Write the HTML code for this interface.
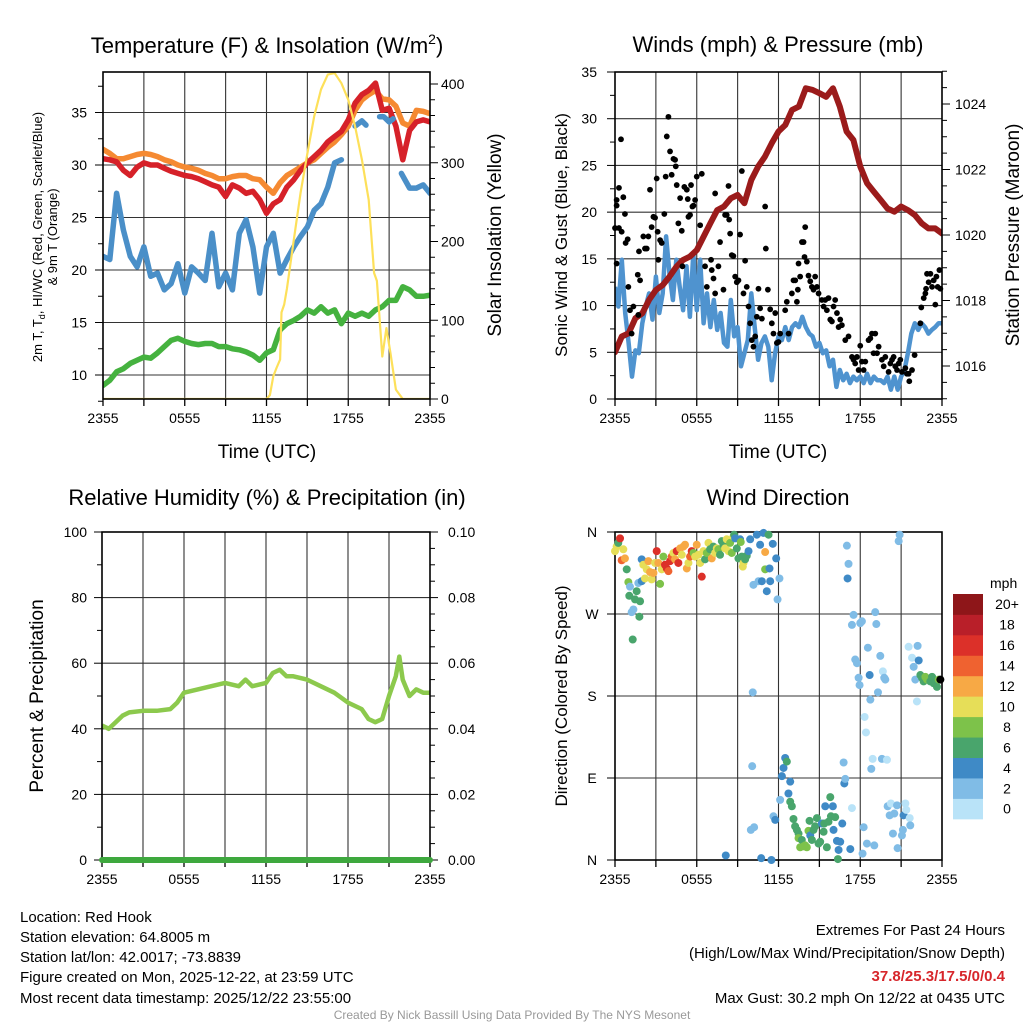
<!DOCTYPE html>
<html><head><meta charset="utf-8">
<style>
html,body{margin:0;padding:0;background:#fff;}
svg{display:block;font-family:"Liberation Sans",Arial,sans-serif;}
</style></head>
<body>
<svg id="chart" width="1024" height="1024" viewBox="0 0 1024 1024" xmlns="http://www.w3.org/2000/svg">
<defs>
<clipPath id="c1"><rect x="103" y="72" width="327" height="327"/></clipPath>
<clipPath id="c2"><rect x="615" y="72" width="327" height="327"/></clipPath>
<clipPath id="c3"><rect x="90" y="520" width="355" height="350"/></clipPath>
</defs>
<rect width="1024" height="1024" fill="#fff"/>

<!-- titles -->
<text x="267" y="53" font-size="22" text-anchor="middle">Temperature (F) &amp; Insolation (W/m<tspan dy="-9" font-size="14">2</tspan><tspan dy="9">)</tspan></text>
<text x="778" y="52" font-size="22" text-anchor="middle">Winds (mph) &amp; Pressure (mb)</text>
<text x="267" y="505" font-size="22" text-anchor="middle">Relative Humidity (%) &amp; Precipitation (in)</text>
<text x="778" y="505" font-size="22" text-anchor="middle">Wind Direction</text>

<g id="g1"></g>
<g id="g2"></g>
<g id="g3"></g>
<g id="g4"></g>

<!-- axis titles -->
<text transform="translate(42,237) rotate(-90)" font-size="13" text-anchor="middle">2m T, T<tspan dy="3" font-size="9">d</tspan><tspan dy="-3">, HI/WC (Red, Green, Scarlet/Blue)</tspan></text>
<text transform="translate(57,237) rotate(-90)" font-size="13" text-anchor="middle">&amp; 9m T (Orange)</text>
<text transform="translate(501,235) rotate(-90)" font-size="19" text-anchor="middle">Solar Insolation (Yellow)</text>
<text x="267" y="458" font-size="19" text-anchor="middle">Time (UTC)</text>
<text transform="translate(567,235) rotate(-90)" font-size="17" text-anchor="middle">Sonic Wind &amp; Gust (Blue, Black)</text>
<text transform="translate(1019,235) rotate(-90)" font-size="19" text-anchor="middle">Station Pressure (Maroon)</text>
<text x="778" y="458" font-size="19" text-anchor="middle">Time (UTC)</text>
<text transform="translate(43,696) rotate(-90)" font-size="19" text-anchor="middle">Percent &amp; Precipitation</text>
<text transform="translate(567,696) rotate(-90)" font-size="17" text-anchor="middle">Direction (Colored By Speed)</text>
<text x="990" y="588" font-size="14">mph</text>

<!-- footer -->
<g font-size="15">
<text x="20" y="922">Location: Red Hook</text>
<text x="20" y="942">Station elevation: 64.8005 m</text>
<text x="20" y="962">Station lat/lon: 42.0017; -73.8839</text>
<text x="20" y="982">Figure created on Mon, 2025-12-22, at 23:59 UTC</text>
<text x="20" y="1003">Most recent data timestamp: 2025/12/22 23:55:00</text>
</g>
<g font-size="15" text-anchor="end">
<text x="1005" y="935">Extremes For Past 24 Hours</text>
<text x="1005" y="958">(High/Low/Max Wind/Precipitation/Snow Depth)</text>
<text x="1005" y="981" fill="#d7262b" font-weight="bold">37.8/25.3/17.5/0/0.4</text>
<text x="1005" y="1003">Max Gust: 30.2 mph On 12/22 at 0435 UTC</text>
</g>
<text x="512" y="1019" font-size="12" fill="#999" text-anchor="middle">Created By Nick Bassill Using Data Provided By The NYS Mesonet</text>
</svg>

<script>
// ---------- data ----------
const timeTickLabels = ["2355","0555","1155","1755","2355"];
const halfHours = [0,0.5,1,1.5,2,2.5,3,3.5,4,4.5,5,5.5,6,6.5,7,7.5,8,8.5,9,9.5,10,10.5,11,11.5,12,12.5,13,13.5,14,14.5,15,15.5,16,16.5,17,17.5,18,18.5,19,19.5,20,20.5,21,21.5,22,22.5,23,23.5,24];
const tempRed = [30.6,30.5,30.3,29.5,29.0,29.8,30.2,30.0,30.0,29.7,29.4,29.2,29.0,28.9,28.7,28.4,28.1,27.9,27.0,28.1,27.8,27.3,27.5,26.7,25.4,26.3,26.7,27.9,28.6,29.5,30.2,30.8,31.4,32.2,32.7,33.2,34.3,35.9,36.7,37.1,37.8,35.2,35.4,33.7,30.5,33.3,34.1,34.3,34.1];
const temp9m = [31.5,31.1,30.6,30.6,30.8,31.0,31.1,31.0,30.8,30.5,30.3,30.0,29.8,29.7,29.5,29.2,29.0,28.7,28.7,28.9,29.0,29.0,28.7,28.6,27.9,27.3,28.3,29.0,29.4,29.8,30.2,30.5,31.1,31.7,32.2,32.9,33.7,35.2,36.2,36.7,37.1,36.3,36.2,35.6,34.0,33.7,35.2,35.1,34.9];
const dewGreen = [9.0,9.5,10.3,10.6,11.1,11.4,11.7,11.6,12.1,12.7,13.3,13.5,13.2,13.0,12.9,13.0,13.0,12.7,12.7,12.5,12.4,12.2,11.9,11.4,12.1,12.4,14.3,14.9,15.2,15.6,16.2,15.9,16.5,15.9,16.2,14.9,15.9,15.6,15.9,15.6,16.2,16.5,17.1,17.1,18.4,18.1,17.5,17.5,17.6];
const hiwcHours = [0,0.5,1,1.5,2,2.5,3,3.5,4,4.5,5,5.5,6,6.5,7,7.5,8,8.5,9,9.5,10,10.5,11,11.5,12,12.5,13,13.5,14,14.5,15,15.5,16,16.5,17,17.5,18,18.5,19,19.3,19.6,20.3,20.6,21,21.3,21.6,21.9,22.2,22.5,23,23.5,24];
const hiwcBlue = [21.3,21.0,27.3,23.8,21.3,20.3,22.2,19.4,19.7,18.1,18.7,20.6,17.8,20.3,19.7,19.0,23.5,18.4,19.7,18.1,23.5,24.8,22.2,17.8,22.2,23.5,19.7,21.0,22.2,23.2,24.1,25.7,26.3,27.9,30.2,30.5,null,33.7,34.2,33.8,null,34.6,34.6,34.1,34.4,null,29.2,28.5,27.8,27.8,28.1,27.3];
const solarHours = [0,12,12.25,12.5,12.75,13,13.1,13.3,13.5,14,14.5,15,15.5,16,16.5,17,17.5,18,18.5,19,19.5,19.9,20.1,20.5,20.8,21.1,21.5,22,24];
const solarWm2 = [0,0,5,29,40,50,110,120,140,202,262,312,359,393,412,414,401,380,346,304,253,160,150,54,90,58,12,0,0];
const tempTicks = [10,15,20,25,30,35];
const solarTicks = [0,100,200,300,400];

const windMph = [12.0,9.9,14.9,9.2,6.0,2.4,5.2,4.9,8.1,9.9,11.3,8.5,13.1,9.2,11.3,17.4,13.4,10.6,14.9,12.0,9.5,14.2,8.8,15.6,9.5,14.9,8.1,11.3,7.7,10.6,7.4,9.2,6.0,5.6,10.6,6.7,7.7,3.5,4.9,6.3,11.3,7.7,4.2,6.0,6.7,5.6,2.0,4.9,6.7,6.3,7.7,6.3,7.7,8.1,7.7,8.8,7.7,7.0,6.7,5.6,6.0,4.9,5.2,3.5,4.2,1.3,3.1,2.0,2.7,1.7,2.4,2.0,2.4,1.7,2.7,1.7,2.4,2.0,2.0,1.7,2.4,1.0,2.4,1.0,2.4,3.1,4.9,7.0,8.1,7.4,8.1,7.7,7.0,7.4,7.7,8.1,8.1];
const pressureMb = [1016.42,1016.90,1017.00,1017.46,1017.61,1018.02,1018.32,1018.47,1018.73,1019.03,1019.24,1019.34,1019.54,1019.95,1020.36,1020.76,1020.87,1021.12,1021.22,1020.97,1021.68,1022.09,1022.39,1022.80,1023.16,1023.36,1023.82,1023.92,1024.48,1024.43,1024.33,1024.22,1024.48,1023.92,1023.16,1022.90,1022.09,1021.58,1021.32,1021.07,1020.81,1020.71,1020.87,1020.76,1020.61,1020.36,1020.20,1020.20,1020.05];
const gustHours = [0.0,0.12,0.12,0.29,0.44,0.61,0.73,0.29,0.49,0.78,0.93,0.12,0.98,1.1,1.35,1.22,1.67,1.84,1.71,1.76,2.08,2.2,2.33,2.45,2.57,2.69,2.82,2.94,3.06,3.13,3.18,3.31,3.43,3.62,3.72,3.8,3.92,4.04,4.16,4.29,4.41,4.46,4.53,4.65,4.78,4.9,4.95,5.09,5.27,5.34,5.39,5.51,5.58,5.68,5.76,5.88,6.0,6.25,6.37,6.61,6.74,7.05,7.1,7.23,7.35,7.59,7.35,7.71,7.96,8.08,8.2,8.33,8.38,8.45,8.57,8.69,8.82,8.94,9.06,9.18,9.31,9.43,9.55,9.67,9.8,9.92,10.04,10.16,10.29,10.41,10.53,10.65,10.78,11.02,11.07,11.22,11.39,11.51,11.63,11.76,11.88,12.0,12.12,12.49,12.61,12.74,12.98,13.1,13.23,13.35,13.42,13.47,13.59,13.72,13.84,13.96,13.91,14.08,14.2,14.33,14.45,14.57,14.69,14.82,14.94,15.18,15.31,15.43,15.55,15.67,15.8,15.92,16.04,16.16,16.29,16.41,16.53,16.65,16.9,17.14,17.39,17.51,17.63,17.76,17.88,18.0,18.12,18.25,18.37,18.61,18.74,18.86,18.98,19.1,19.23,19.35,19.59,19.72,19.84,20.08,20.21,20.33,20.45,20.57,20.7,20.82,20.94,21.06,21.31,21.43,21.55,21.6,21.8,21.99,22.41,22.48,22.66,22.78,22.83,22.9,23.02,23.15,23.27,23.39,23.51,23.59,23.68,23.81,23.88];
const gustMph = [18.3,21.3,20.7,22.6,27.8,21.6,19.8,18.3,17.9,16.7,17.1,14.5,12.0,9.5,9.9,7.0,13.3,12.7,9.0,15.8,17.4,16.1,16.1,17.4,22.4,18.4,19.5,19.4,23.6,17.9,14.9,17.0,16.7,19.8,23.8,28.1,30.2,26.5,24.0,25.7,25.6,24.9,22.9,18.8,21.5,18.0,14.2,22.7,22.4,21.4,19.5,19.7,22.9,20.6,20.7,21.3,23.8,18.6,24.1,14.2,12.0,14.9,13.8,12.9,11.3,14.2,22.0,16.8,11.7,19.7,19.7,22.8,19.2,17.7,15.4,15.3,13.1,12.5,12.7,17.6,24.4,11.3,14.8,12.0,9.9,8.1,6.3,5.6,6.7,8.8,11.8,9.7,8.6,20.6,16.1,11.7,9.6,8.1,7.0,9.2,6.0,6.1,7.0,9.5,10.4,7.0,11.3,12.7,12.7,10.4,11.7,14.5,13.1,16.8,16.8,18.4,15.2,14.7,13.2,12.6,12.0,11.7,13.1,12.0,11.3,10.6,9.9,10.6,9.5,10.8,8.5,8.3,9.9,10.6,9.2,7.7,8.5,7.9,6.3,6.7,4.5,4.2,3.8,4.5,3.1,5.7,4.0,3.1,4.0,6.3,6.5,7.0,4.9,7.0,4.9,5.6,4.2,3.5,4.5,2.9,3.8,4.2,4.5,3.5,3.1,3.8,4.2,2.9,3.3,2.7,2.7,1.9,3.1,4.7,8.1,9.8,10.8,11.3,11.8,13.4,12.5,13.4,12.0,12.7,10.1,13.1,12.0,13.8,11.8];
const windTicks = [0,5,10,15,20,25,30,35];
const pressureTicks = [1016,1018,1020,1022,1024];

const rhHours = [0,0.5,1,1.5,2,3,4,5,5.5,6,7,8,9,10,10.5,11,12,12.5,13,13.5,14,15,16,17,18,19,19.5,20,20.5,21,21.5,21.75,22,22.5,23,23.5,24];
const rhPercent = [41,40,42,44,45,45.5,45.5,46,48,51,52,53,54,53,55,53,54,57,58,56,56,55,53,51,48,46,43,42,43,50,56,62,55,50,52,51,51];
const precipInches = [0,0];
const precipHours = [0,24];
const rhTicks = [0,20,40,60,80,100];
const precipTicks = ["0.00","0.02","0.04","0.06","0.08","0.10"];

const dirHours = [0.00,0.12,0.24,0.37,0.49,0.61,0.73,0.86,0.98,1.05,1.10,1.22,1.35,1.47,1.59,1.71,1.79,1.84,1.30,1.96,1.96,2.08,2.20,2.33,2.45,2.57,2.69,2.82,2.94,3.06,3.18,3.31,3.43,3.55,3.67,3.80,3.92,4.04,4.16,4.29,4.41,4.53,4.65,4.78,4.90,5.02,5.14,5.27,5.39,5.51,5.63,5.76,5.88,6.00,6.12,6.25,6.37,6.49,6.61,6.74,6.86,6.98,7.10,7.22,7.35,7.47,7.59,7.71,7.84,7.96,8.08,8.20,8.33,8.45,8.57,8.69,8.74,8.82,8.94,9.06,9.18,9.23,9.31,9.38,9.43,9.55,9.67,9.80,9.92,10.11,10.07,10.16,10.41,10.53,10.65,10.78,10.90,11.02,11.02,11.14,11.27,11.34,11.39,11.58,11.83,11.93,12.07,8.13,9.97,10.21,10.73,11.48,11.63,11.76,12.12,12.25,12.37,12.49,12.61,12.73,12.86,12.86,12.98,13.10,13.22,13.35,13.47,13.47,13.59,13.71,13.84,13.96,14.08,14.20,14.28,14.33,14.45,14.57,14.69,14.82,14.94,15.06,15.18,15.31,15.36,15.43,15.55,15.67,15.80,15.85,15.99,16.04,16.16,16.29,16.36,16.41,16.53,16.68,16.78,16.83,16.90,17.02,17.07,17.14,17.27,17.39,17.39,17.51,17.63,17.76,17.88,17.95,18.00,18.12,18.17,18.25,18.32,18.42,18.49,18.56,18.69,18.74,18.81,18.91,19.03,19.10,19.18,19.30,19.47,19.59,19.66,19.76,19.84,19.96,20.01,20.16,20.25,20.40,20.50,20.70,20.82,20.89,20.74,21.06,21.13,21.18,21.31,21.38,21.55,21.63,21.67,21.80,21.92,22.04,22.16,22.21,22.29,22.41,22.53,22.65,22.78,22.90,23.02,23.14,23.27,23.39,23.51,23.63,23.76,23.88];
const dirDegrees = [339,344,348,353,329,341,331,319,305,290,300,272,275,286,295,304,267,284,242,306,330,324,309,319,328,316,308,315,326,339,326,303,319,333,324,320,317,328,333,337,330,339,326,342,335,344,346,320,326,333,339,337,333,346,335,326,311,339,330,337,348,341,331,344,337,342,341,335,350,346,342,352,339,348,337,355,357,353,342,331,352,349,333,322,326,330,334,339,352,184,103,302,357,306,346,306,359,319,338,295,357,320,306,347,331,286,309,5,33,36,2,0,48,44,66,92,101,112,108,73,86,64,59,45,37,33,29,24,14,22,15,16,14,32,43,27,22,33,37,46,18,20,40,31,40,59,14,42,69,48,59,33,47,21,1,11,20,40,107,84,89,345,309,325,12,57,258,269,220,216,200,192,260,262,7,36,157,140,18,233,203,176,100,111,16,272,259,184,224,111,207,200,198,110,59,49,62,29,51,60,350,357,13,27,33,49,62,55,234,46,38,222,212,198,174,235,219,203,200,196,201,198,198,196,201,194,196,190,198,198];
const dirSpeed = [10,10,6,16,14,10,12,6,8,6,2,2,2,6,6,2,6,6,6,4,4,10,10,10,12,12,10,12,10,16,12,8,10,8,16,16,14,16,14,10,12,16,16,12,10,12,12,12,10,14,16,8,10,12,10,10,16,10,6,8,10,6,12,6,10,10,8,6,6,6,10,10,10,8,8,10,6,4,6,6,4,8,6,10,10,6,6,4,4,2,2,2,4,2,4,4,4,8,12,4,6,4,4,4,4,2,2,4,2,2,4,4,2,4,2,4,4,4,6,4,4,6,6,6,6,6,6,8,8,6,8,8,8,8,6,4,6,6,6,6,6,6,4,6,6,4,6,6,6,6,4,4,6,4,6,4,4,4,2,4,2,2,4,2,4,0,2,2,2,2,2,2,2,2,2,2,0,0,2,2,4,2,2,0,2,2,2,2,2,2,0,2,2,0,2,2,0,2,2,2,2,2,2,2,2,4,0,0,0,0,2,0,2,2,0,2,4,6,6,6,8,8,8,6,6,6,6,6,8];
const dirTickLabels = ["N","E","S","W","N"];
const speedBinLabels = ["0","2","4","6","8","10","12","14","16","18","20+"];
const speedBinColors = ["#b9e3f8","#80bce6","#3f8ac6","#49a56c","#7dc24a","#e6de58","#f7a945","#ef6230","#dc3029","#b91f29","#8e1619"];

// ---------- helpers ----------
const NS = "http://www.w3.org/2000/svg";
function el(tag, attrs, parent){const e=document.createElementNS(NS,tag);for(const k in attrs)e.setAttribute(k,attrs[k]);parent.appendChild(e);return e;}
function linePath(xs, ys, fx, fy){let d="",pen=false;for(let i=0;i<xs.length;i++){if(ys[i]===null||ys[i]===undefined){pen=false;continue;}d+=(pen?"L":"M")+fx(xs[i]).toFixed(1)+","+fy(ys[i]).toFixed(1);pen=true;}return d;}
const quarterHours = windMph.map((_, i) => i * 0.25);

function frame(g, L, T, W, H, vLines, hLines){
  const grid = el("g",{},g);
  
  
  vLines.forEach(x=>el("line",{x1:x,y1:T,x2:x,y2:T+H,stroke:"#333","stroke-width":1.1},grid));
  hLines.forEach(y=>el("line",{x1:L,y1:y,x2:L+W,y2:y,stroke:"#333","stroke-width":1.1},grid));
  return grid;
}
function border(g,L,T,W,H){
  const b=el("rect",{x:L,y:T,width:W,height:H,fill:"none",stroke:"#000","stroke-width":1.6},g);
  
  
}
function xAxis(g, L, W, bottom, labelY){
  for(let k=0;k<=8;k++){const x=L+k*W/8;el("line",{x1:x,y1:bottom,x2:x,y2:bottom+7,stroke:"#000","stroke-width":1.3},g);}
  timeTickLabels.forEach((s,i)=>{
    const t=el("text",{x:L+i*W/4,y:labelY,"font-size":14,"text-anchor":"middle"},g);
    
    
    t.textContent=s;
  });
}

// ---------- Panel 1 ----------
(function(){
  const g=document.getElementById("g1");
  const L=103,T=72,W=327,H=327;
  const x=h=>L+h*W/24, yL=v=>375-(v-10)*10.5, yR=w=>399-w*0.7875;
  const vl=[];for(let k=1;k<8;k++)vl.push(L+k*W/8);
  frame(g,L,T,W,H,vl,tempTicks.map(yL));
  // left ticks
  for(let v=7.5;v<=38.6;v+=2.5){const major=(v%5===0);el("line",{x1:L-(major?8:5),y1:yL(v),x2:L,y2:yL(v),stroke:"#000","stroke-width":1},g);}
  tempTicks.forEach(v=>{const t=el("text",{x:87,y:yL(v)+5,"font-size":14,"text-anchor":"end"},g);
    
    
    t.textContent=v;});
  for(let w=0;w<=400;w+=20){const major=(w%100===0);el("line",{x1:L+W,y1:yR(w),x2:L+W+(major?8:5),y2:yR(w),stroke:"#000","stroke-width":1},g);}
  solarTicks.forEach(w=>{const t=el("text",{x:441,y:yR(w)+5,"font-size":14},g);
    
    
    t.textContent=w;});
  xAxis(g,L,W,L+0>0?399:399,423);
  const cg=el("g",{"clip-path":"url(#c1)"},g);
  const s=[[temp9m,halfHours,"#f58a32","temp-9m-line"],[tempRed,halfHours,"#d62129","temp-2m-line"],[hiwcBlue,hiwcHours,"#4a8fc8","heat-index-windchill-line"],[dewGreen,halfHours,"#45b23f","dewpoint-line"]];
  s.forEach(([vals,hrs,c,n])=>{const p=el("path",{d:linePath(hrs,vals,x,yL),fill:"none",stroke:c,"stroke-width":5.5,"stroke-linejoin":"round","stroke-linecap":"round"},cg);
    
    });
  const sp=el("path",{d:linePath(solarHours,solarWm2,x,yR),fill:"none",stroke:"#fde05a","stroke-width":2.2,"stroke-linejoin":"round"},cg);
  
  
  border(g,L,T,W,H);
})();

// ---------- Panel 2 ----------
(function(){
  const g=document.getElementById("g2");
  const L=615,T=72,W=327,H=327;
  const x=h=>L+h*W/24, yL=v=>399-v*9.343, yR=p=>366-(p-1016)*32.75;
  const vl=[];for(let k=1;k<8;k++)vl.push(L+k*W/8);
  frame(g,L,T,W,H,vl,windTicks.slice(1).map(yL));
  for(let v=0;v<=35;v+=2.5){const major=(v%5===0);el("line",{x1:L-(major?8:5),y1:yL(v),x2:L,y2:yL(v),stroke:"#000","stroke-width":1},g);}
  windTicks.forEach(v=>{const t=el("text",{x:597,y:yL(v)+5,"font-size":14,"text-anchor":"end"},g);
    
    
    t.textContent=v;});
  for(let p=1015;p<=1025.1;p+=0.5){const major=(Math.round(p*2)%4===0);el("line",{x1:L+W,y1:yR(p),x2:L+W+(major?8:5),y2:yR(p),stroke:"#000","stroke-width":1},g);}
  pressureTicks.forEach(p=>{const t=el("text",{x:955,y:yR(p)+5,"font-size":14},g);
    
    
    t.textContent=p;});
  xAxis(g,L,W,399,423);
  const cg=el("g",{"clip-path":"url(#c2)"},g);
  const wp=el("path",{d:linePath(quarterHours,windMph,x,yL),fill:"none",stroke:"#4f93cf","stroke-width":4.5,"stroke-linejoin":"round"},cg);
  
  
  const pp=el("path",{d:linePath(halfHours,pressureMb,x,yR),fill:"none",stroke:"#9b1b1b","stroke-width":6,"stroke-linejoin":"round","stroke-linecap":"round"},cg);
  
  
  gustHours.forEach((h,i)=>{const c=el("circle",{cx:x(h),cy:yL(gustMph[i]),r:2.9,fill:"#000"},g);
    
    });
  border(g,L,T,W,H);
})();

// ---------- Panel 3 ----------
(function(){
  const g=document.getElementById("g3");
  const L=102,T=532,W=328,H=328;
  const x=h=>L+h*W/24, y=v=>860-v*3.28, yR=p=>860-p*3280;
  const vl=[];for(let k=1;k<8;k++)vl.push(L+k*W/8);
  frame(g,L,T,W,H,vl,rhTicks.slice(1).map(y));
  for(let v=0;v<=100;v+=10){el("line",{x1:L-(v%20===0?8:5),y1:y(v),x2:L,y2:y(v),stroke:"#000","stroke-width":1},g);}
  rhTicks.forEach(v=>{const t=el("text",{x:87,y:y(v)+5,"font-size":14,"text-anchor":"end"},g);
    
    
    t.textContent=v;});
  for(let k=0;k<=20;k++){const p=k*0.005;el("line",{x1:L+W,y1:yR(p),x2:L+W+(k%4===0?8:5),y2:yR(p),stroke:"#000","stroke-width":1},g);}
  precipTicks.forEach(s=>{const t=el("text",{x:448,y:yR(parseFloat(s))+5,"font-size":14},g);
    
    
    t.textContent=s;});
  xAxis(g,L,W,860,864+20);
  const rp=el("path",{d:linePath(rhHours,rhPercent,x,y),fill:"none",stroke:"#8cc94d","stroke-width":4.5,"stroke-linejoin":"round"},g);
  
  
  border(g,L,T,W,H);
  const pp=el("path",{d:linePath(precipHours,precipInches,x,yR),fill:"none",stroke:"#3ea83e","stroke-width":6,"stroke-linecap":"round"},g);
  
  
})();

// ---------- Panel 4 ----------
(function(){
  const g=document.getElementById("g4");
  const L=615,T=532,W=327,H=328;
  const x=h=>L+h*W/24, y=d=>860-d*H/360;
  const vl=[];for(let k=1;k<8;k++)vl.push(L+k*W/8);
  frame(g,L,T,W,H,vl,[90,180,270].map(y));
  [0,90,180,270,360].forEach((d,i)=>{
    el("line",{x1:L-8,y1:y(d),x2:L,y2:y(d),stroke:"#000","stroke-width":1},g);
    const t=el("text",{x:592,y:y(d)+5,"font-size":14,"text-anchor":"middle"},g);
    
    
    t.textContent=dirTickLabels[i];});
  xAxis(g,L,W,860,884);
  border(g,L,T,W,H);
  dirHours.forEach((h,i)=>{const b=Math.min(10,Math.floor(dirSpeed[i]/2));
    const c=el("circle",{cx:x(h),cy:y(dirDegrees[i]),r:4,fill:speedBinColors[b]},g);
    
    });
  // colorbar
  const cb=el("g",{},g);
  
  
  const top=594,bh=20.45;
  speedBinLabels.forEach((lab,i)=>{const yy=top+(10-i)*bh;
    const r=el("rect",{x:953,y:yy,width:30,height:bh+0.4,fill:speedBinColors[i]},cb);
    
    
    const t=el("text",{x:1007,y:yy+bh/2+5,"font-size":14,"text-anchor":"middle"},cb);
    
    
    t.textContent=lab;});
})();
</script>
</body></html>
